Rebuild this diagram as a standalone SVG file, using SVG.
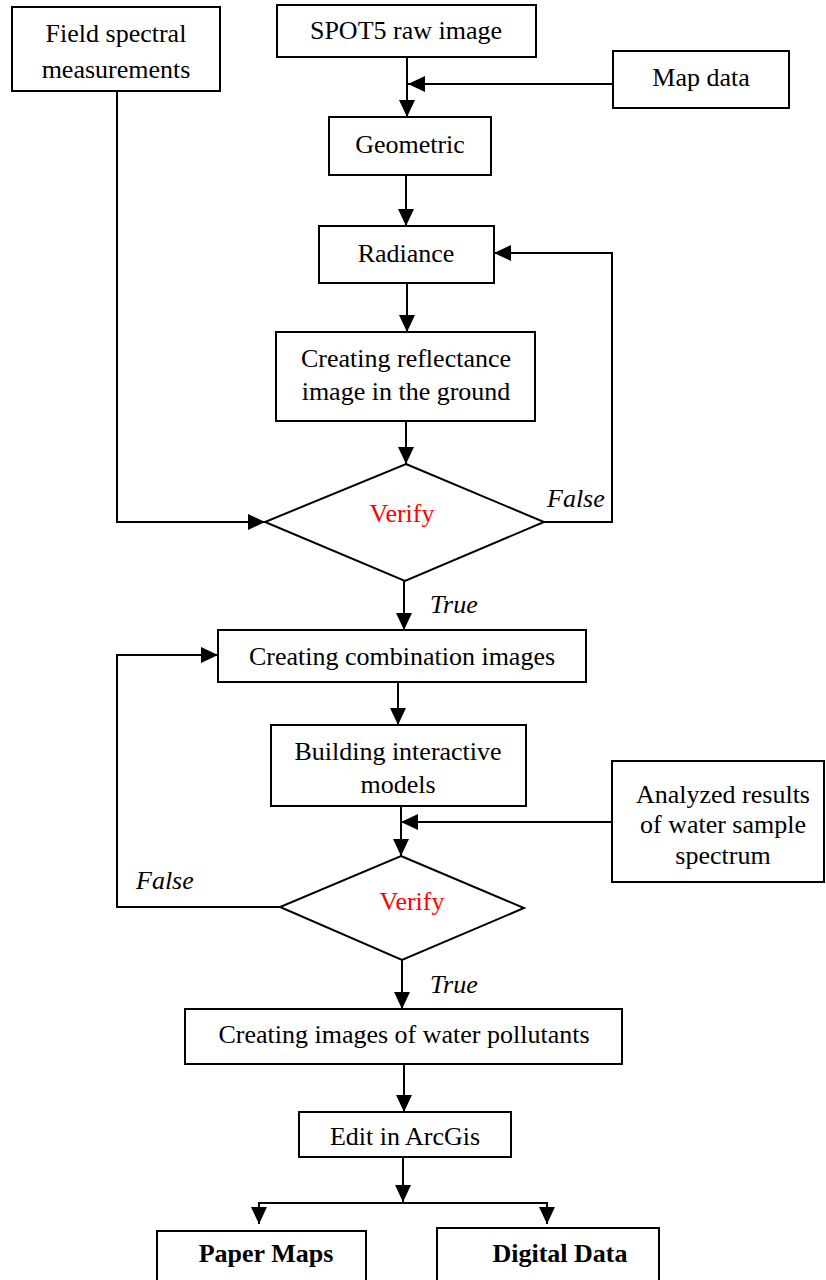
<svg xmlns="http://www.w3.org/2000/svg" width="826" height="1280" viewBox="0 0 826 1280">
  <defs>
    <marker id="arrow" markerUnits="userSpaceOnUse" markerWidth="18" markerHeight="16" refX="17" refY="8" orient="auto">
      <path d="M0,0 L17,8 L0,16 z" fill="#000"/>
    </marker>
    <style>
      .box { fill: #fff; stroke: #000; stroke-width: 2; }
      .line { fill: none; stroke: #000; stroke-width: 2; }
      .arr { fill: none; stroke: #000; stroke-width: 2; marker-end: url(#arrow); }
      text { font-family: "Liberation Serif", "Times New Roman", serif; font-size: 26px; fill: #000; text-anchor: middle; }
      .red { fill: #ff0000; }
      .ital { font-style: italic; text-anchor: start; }
      .bold { font-weight: bold; }
    </style>
  </defs>
  <rect width="826" height="1280" fill="#fff"/>

  <!-- connectors -->
  <g id="connectors">
    <path class="arr" d="M407,57 V117"/>
    <path class="arr" d="M613,84 H408"/>
    <path class="arr" d="M406,175 V226"/>
    <path class="arr" d="M407,283 V332"/>
    <path class="arr" d="M406,421 V464"/>
    <path class="arr" d="M117,91 V522 H265"/>
    <path class="arr" d="M544,522 H612 V253 H494"/>
    <path class="arr" d="M404,581 V630"/>
    <path class="arr" d="M398,682 V725"/>
    <path class="arr" d="M401,806 V856"/>
    <path class="arr" d="M612,822 H401"/>
    <path class="arr" d="M280,907 H117 V655 H218"/>
    <path class="arr" d="M402,960 V1009"/>
    <path class="arr" d="M404,1064 V1112"/>
    <path class="arr" d="M403,1157 V1202"/>
    <path class="line" d="M259,1224 V1203 H547 V1224"/>
    <path class="arr" d="M259,1203 V1224"/>
    <path class="arr" d="M547,1203 V1224"/>
    <text class="ital" x="547" y="507">False</text>
    <text class="ital" x="430" y="613">True</text>
    <text class="ital" x="136" y="889">False</text>
    <text class="ital" x="430" y="993">True</text>
  </g>

  <g id="field-spectral">
    <rect class="box" x="12" y="7" width="208" height="84"/>
    <text x="116" y="42">Field spectral</text>
    <text x="116" y="78">measurements</text>
  </g>

  <g id="spot5">
    <rect class="box" x="277" y="5" width="259" height="52"/>
    <text x="406" y="39">SPOT5 raw image</text>
  </g>

  <g id="map-data">
    <rect class="box" x="613" y="51" width="176" height="57"/>
    <text x="701" y="86">Map data</text>
  </g>

  <g id="geometric">
    <rect class="box" x="329" y="117" width="162" height="58"/>
    <text x="410" y="153">Geometric</text>
  </g>

  <g id="radiance">
    <rect class="box" x="319" y="226" width="175" height="57"/>
    <text x="406" y="262">Radiance</text>
  </g>

  <g id="reflectance">
    <rect class="box" x="276" y="332" width="259" height="89"/>
    <text x="406" y="367">Creating reflectance</text>
    <text x="406" y="400">image in the ground</text>
  </g>

  <g id="verify-1">
    <polygon class="box" points="406,464 544,522 405,581 265,522"/>
    <text class="red" x="402" y="522">Verify</text>
  </g>

  <g id="combination">
    <rect class="box" x="218" y="630" width="368" height="52"/>
    <text x="402" y="665">Creating combination images</text>
  </g>

  <g id="interactive-models">
    <rect class="box" x="271" y="725" width="255" height="81"/>
    <text x="398" y="760">Building interactive</text>
    <text x="398" y="793">models</text>
  </g>

  <g id="water-sample">
    <rect class="box" x="612" y="761" width="212" height="121"/>
    <text x="723" y="803">Analyzed results</text>
    <text x="723" y="833">of water sample</text>
    <text x="723" y="864">spectrum</text>
  </g>

  <g id="verify-2">
    <polygon class="box" points="401,856 524,908 402,960 280,907"/>
    <text class="red" x="412" y="910">Verify</text>
  </g>

  <g id="pollutants">
    <rect class="box" x="185" y="1009" width="437" height="55"/>
    <text x="404" y="1043">Creating images of water pollutants</text>
  </g>

  <g id="arcgis">
    <rect class="box" x="299" y="1112" width="212" height="45"/>
    <text x="405" y="1145">Edit in ArcGis</text>
  </g>

  <g id="paper-maps">
    <rect class="box" x="157" y="1231" width="209" height="60"/>
    <text class="bold" x="266" y="1262">Paper Maps</text>
  </g>

  <g id="digital-data">
    <rect class="box" x="437" y="1228" width="222" height="63"/>
    <text class="bold" x="560" y="1262">Digital Data</text>
  </g>
</svg>
